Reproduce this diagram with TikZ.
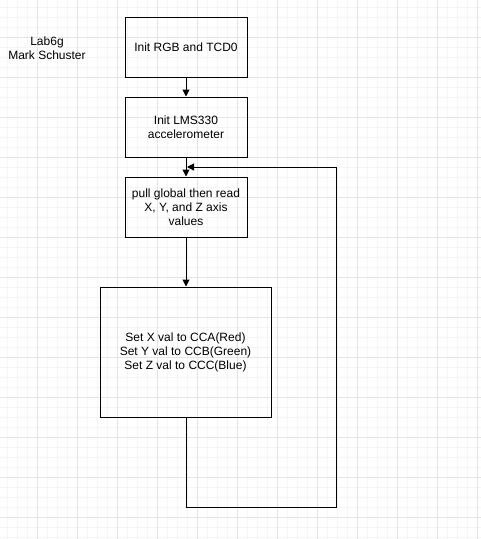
\documentclass[tikz,border=0pt]{standalone}
\usepackage{fontspec}
\setmainfont{Liberation Sans}
\usetikzlibrary{arrows.meta}
\definecolor{minorgrid}{HTML}{F5F5F5}
\definecolor{majorgrid}{HTML}{E4E4E4}
\begin{document}
\begin{tikzpicture}[x=1pt,y=-1pt,
  every node/.style={font=\fontsize{12pt}{14pt}\selectfont, align=center},
  flowbox/.style={draw, line width=1pt, inner sep=0pt},
  flowline/.style={line width=1pt},
  flowarrow/.style={flowline, -{Triangle[length=7pt,width=7pt]}}]
\useasboundingbox (0,0) rectangle (481,539);
\fill[white] (0,0) rectangle (481,539);
% grid
\foreach \g in {7,17,...,481} {\draw[minorgrid, line width=0.8pt] (\g,0) -- (\g,539);}
\foreach \g in {7,17,...,539} {\draw[minorgrid, line width=0.8pt] (0,\g) -- (481,\g);}
\foreach \g in {37,77,...,481} {\draw[majorgrid, line width=0.8pt] (\g,0) -- (\g,539);}
\foreach \g in {37,77,...,539} {\draw[majorgrid, line width=0.8pt] (0,\g) -- (481,\g);}
% title
\node (title) at (47,48) {Lab6g\\Mark Schuster};
% boxes
\node[flowbox, minimum width=122pt, minimum height=60pt] (b1) at (186,47) {Init RGB and TCD0};
\node[flowbox, minimum width=122pt, minimum height=60pt] (b2) at (186,127) {Init LMS330\\accelerometer};
\node[flowbox, minimum width=122pt, minimum height=60pt] (b3) at (186,207) {pull global then read\\X, Y, and Z axis\\values};
\node[flowbox, minimum width=171pt, minimum height=130pt] (b4) at (185.5,352) {Set X val to CCA(Red)\\Set Y val to CCB(Green)\\Set Z val to CCC(Blue)};
% connectors
\draw[flowarrow] (b1.south) -- (b2.north);
\draw[flowarrow] (b2.south) -- (b3.north);
\draw[flowarrow] (b3.south) -- (b4.north -| b3.south);
\coordinate (corner) at (336,507);
\coordinate (entry) at (187,167);
\draw[flowarrow] (b4.south -| b3.south) |- (corner) |- (entry);
\end{tikzpicture}
\end{document}
